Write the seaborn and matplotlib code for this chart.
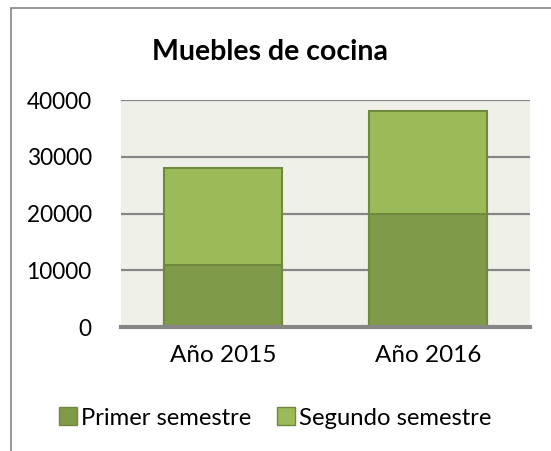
import matplotlib
matplotlib.use("Agg")
import matplotlib.pyplot as plt
from matplotlib.lines import Line2D
from matplotlib.patches import Patch
import seaborn as sns
import pandas as pd

categories = ["Año 2015", "Año 2016"]
primer = [11000, 20000]
segundo = [17000, 18000]
yticks = [0, 10000, 20000, 30000, 40000]

sns.set_theme(style="white")
plt.rcParams['font.family'] = ['Lato', 'DejaVu Sans']
plt.rcParams['text.color'] = 'black'
plt.rcParams['xtick.color'] = 'black'
plt.rcParams['ytick.color'] = 'black'
plt.rcParams['xtick.labelcolor'] = 'black'
plt.rcParams['ytick.labelcolor'] = 'black'

dark = "#7F9A48"
light = "#9BBB59"
edge = "#71893E"
grid = "#868686"

total = [p + s for p, s in zip(primer, segundo)]
df = pd.DataFrame({"cat": categories, "primer": primer, "total": total})

fig = plt.figure(figsize=(5.51, 4.51), dpi=100)
ax = fig.add_axes([121/551, 1-327/451, 409/551, 227/451])
ax.set_facecolor("#EFF1E9")

sns.barplot(data=df, x="cat", y="total", color=light, saturation=1, width=0.575,
            edgecolor=edge, linewidth=1.5, ax=ax, zorder=3)
sns.barplot(data=df, x="cat", y="primer", color=dark, saturation=1, width=0.575,
            edgecolor=edge, linewidth=1.5, ax=ax, zorder=4)

ax.set_xlim(-0.5, 1.5)
ax.set_ylim(0, 40000)
ax.set_yticks(yticks)
ax.set_yticklabels([str(v) for v in yticks], fontsize=16.3)
ax.tick_params(axis='x', labelsize=17.5, length=0, pad=13, labelcolor='black')
ax.tick_params(axis='y', length=0, pad=21, labelcolor='black')
ax.set_xlabel("")
ax.set_ylabel("")
for y in yticks[1:]:
    ax.axhline(y, color=grid, linewidth=1.6, zorder=2)
for s in ["top", "right", "left"]:
    ax.spines[s].set_visible(False)
ax.spines["bottom"].set_color(grid)
ax.spines["bottom"].set_linewidth(3)
ax.spines["bottom"].set_zorder(5)

fig.text(270/551, 1-52/451, "Muebles de cocina", ha="center", va="center",
         fontsize=20.5, fontweight="bold", color="black")

handles = [Patch(facecolor=dark, edgecolor=edge, label="Primer semestre"),
           Patch(facecolor=light, edgecolor=edge, label="Segundo semestre")]
leg = fig.legend(handles=handles, loc="center", bbox_to_anchor=(275/551, 1-418/451),
                 ncol=2, frameon=False, fontsize=17.2, handlelength=0.75, handleheight=0.75,
                 handletextpad=0.15, columnspacing=1.1)
for t in leg.get_texts():
    t.set_color("black")

fig.add_artist(Line2D([11/551, 1], [1-8/451, 1-8/451], color=grid, linewidth=1.2,
                      transform=fig.transFigure))
fig.add_artist(Line2D([11/551, 11/551], [1-8/451, 0], color=grid, linewidth=1.2,
                      transform=fig.transFigure))

fig.savefig("out.png", dpi=100)
